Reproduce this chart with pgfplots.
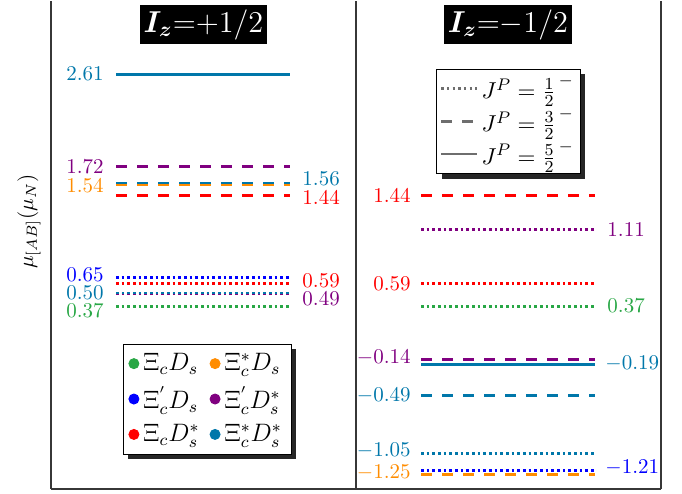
\documentclass[border=0pt]{standalone}
\usepackage{amsmath}
\usepackage{bm}
\usepackage{pgfplots}
\pgfplotsset{compat=1.18}
\usetikzlibrary{shadows}
\makeatletter
\tikzset{nopre/.code={\let\tikz@preactions\pgfutil@empty}}
\makeatother
\definecolor{cgreen}{RGB}{40,167,69}
\definecolor{corange}{RGB}{255,140,0}
\definecolor{cblue}{RGB}{0,0,255}
\definecolor{cred}{RGB}{255,0,0}
\definecolor{cpurple}{RGB}{128,0,128}
\definecolor{cteal}{RGB}{0,119,170}
\definecolor{axgray}{RGB}{55,55,55}
\definecolor{lgray}{RGB}{110,110,110}
\pgfplotsset{
  panel/.style={scale only axis, width=145.24pt, height=232.38pt,
    xmin=0, xmax=305, ymin=-1.387, ymax=3.316,
    xtick=\empty, ytick=\empty,
    axis x line=bottom, axis y line=box,
    axis line style={-, axgray, line width=0.8pt}, clip=false},
  jhalf/.style={line width=1.3pt, dash pattern=on 1.2pt off 1.5pt},
  jthree/.style={line width=1.3pt, dash pattern=on 5pt off 5pt},
  jfive/.style={line width=1.4pt},
  shad/.style={drop shadow={shadow xshift=2.3pt, shadow yshift=-2.3pt, fill=black!85, opacity=1}},
  pmark/.style={nopre, only marks, mark=*, mark size=2.4pt, color=#1},
}
\begin{document}
\begin{tikzpicture}
\begin{axis}[panel, name=L,
  ylabel={$\mu_{[AB]}(\mu_N)$},
  ylabel style={at={(axis description cs:-0.0723,0.547)}, anchor=center},
  legend columns=2,
  legend style={at={(0.513,0.184)}, anchor=center, draw=black, fill=white, shad,
    font=\large, row sep=2pt, inner sep=2.5pt,
    /tikz/every even column/.append style={column sep=3pt}},
  legend cell align=left]
\addlegendimage{pmark=cgreen}
\addlegendentry{$\Xi_c D_s$}
\addlegendimage{pmark=corange}
\addlegendentry{$\Xi_c^{*} D_s$}
\addlegendimage{pmark=cblue}
\addlegendentry{$\Xi_c^{'} D_s$}
\addlegendimage{pmark=cpurple}
\addlegendentry{$\Xi_c^{'} D_s^{*}$}
\addlegendimage{pmark=cred}
\addlegendentry{$\Xi_c D_s^{*}$}
\addlegendimage{pmark=cteal}
\addlegendentry{$\Xi_c^{*} D_s^{*}$}
% levels I_z = +1/2
\addplot[forget plot, cteal, jfive] coordinates {(65,2.61) (239,2.61)};
\addplot[forget plot, cpurple, jthree] coordinates {(65,1.72) (239,1.72)};
\addplot[forget plot, corange, jthree] coordinates {(65,1.54) (239,1.54)};
\addplot[forget plot, cteal, jthree] coordinates {(65,1.56) (239,1.56)};
\addplot[forget plot, cred, jthree] coordinates {(65,1.44) (239,1.44)};
\addplot[forget plot, cblue, jhalf] coordinates {(65,0.65) (239,0.65)};
\addplot[forget plot, cred, jhalf] coordinates {(65,0.59) (239,0.59)};
\addplot[forget plot, cpurple, jhalf] coordinates {(65,0.49) (239,0.49)};
\addplot[forget plot, cteal, jhalf] coordinates {(65,0.50) (239,0.50)};
\addplot[forget plot, cgreen, jhalf] coordinates {(65,0.37) (239,0.37)};
\node[anchor=east, inner sep=0pt, text=cteal] at (axis cs:53,2.61) {$2.61$};
\node[anchor=east, inner sep=0pt, text=cpurple] at (axis cs:53,1.72) {$1.72$};
\node[anchor=east, inner sep=0pt, text=corange] at (axis cs:53,1.533) {$1.54$};
\node[anchor=west, inner sep=0pt, text=cteal] at (axis cs:251,1.60) {$1.56$};
\node[anchor=west, inner sep=0pt, text=cred] at (axis cs:251,1.418) {$1.44$};
\node[anchor=east, inner sep=0pt, text=cblue] at (axis cs:53,0.676) {$0.65$};
\node[anchor=west, inner sep=0pt, text=cred] at (axis cs:251,0.618) {$0.59$};
\node[anchor=east, inner sep=0pt, text=cteal] at (axis cs:53,0.502) {$0.50$};
\node[anchor=west, inner sep=0pt, text=cpurple] at (axis cs:251,0.444) {$0.49$};
\node[anchor=east, inner sep=0pt, text=cgreen] at (axis cs:53,0.329) {$0.37$};
\node[fill=black, text=white, inner sep=2pt, font=\Large] at (rel axis cs:0.5,0.951) {$\boldsymbol{I_z}{=}{+}1/2$};
\end{axis}
\begin{axis}[panel, name=R, at={(L.south east)}, anchor=south west,
  legend style={at={(0.5,0.753)}, anchor=center, draw=black, fill=white, shad,
    font=\fontsize{11pt}{13pt}\selectfont, row sep=0pt, inner sep=1.5pt,
    nodes={inner sep=1.5pt}},
  legend cell align=left]
\addlegendimage{nopre, lgray, jhalf, line width=1.2pt}
\addlegendentry{$J^P=\frac{1}{2}^{\,-}$}
\addlegendimage{nopre, lgray, jthree, line width=1.2pt}
\addlegendentry{$J^P=\frac{3}{2}^{\,-}$}
\addlegendimage{nopre, lgray, jfive, line width=1.2pt}
\addlegendentry{$J^P=\frac{5}{2}^{\,-}$}
% levels I_z = -1/2
\addplot[forget plot, cred, jthree] coordinates {(65,1.44) (239,1.44)};
\addplot[forget plot, cpurple, jhalf] coordinates {(65,1.11) (239,1.11)};
\addplot[forget plot, cred, jhalf] coordinates {(65,0.59) (239,0.59)};
\addplot[forget plot, cgreen, jhalf] coordinates {(65,0.37) (239,0.37)};
\addplot[forget plot, cteal, jfive] coordinates {(65,-0.19) (239,-0.19)};
\addplot[forget plot, cpurple, jthree] coordinates {(65,-0.14) (239,-0.14)};
\addplot[forget plot, cteal, jthree] coordinates {(65,-0.49) (239,-0.49)};
\addplot[forget plot, cteal, jhalf] coordinates {(65,-1.05) (239,-1.05)};
\addplot[forget plot, corange, jthree] coordinates {(65,-1.25) (239,-1.25)};
\addplot[forget plot, cblue, jhalf] coordinates {(65,-1.21) (239,-1.21)};
\node[anchor=east, inner sep=0pt, text=cred] at (axis cs:55,1.44) {$1.44$};
\node[anchor=west, inner sep=0pt, text=cpurple] at (axis cs:251,1.11) {$1.11$};
\node[anchor=east, inner sep=0pt, text=cred] at (axis cs:55,0.59) {$0.59$};
\node[anchor=west, inner sep=0pt, text=cgreen] at (axis cs:251,0.38) {$0.37$};
\node[anchor=east, inner sep=0pt, text=cpurple] at (axis cs:55,-0.12) {$-0.14$};
\node[anchor=west, inner sep=0pt, text=cteal] at (axis cs:249,-0.18) {$-0.19$};
\node[anchor=east, inner sep=0pt, text=cteal] at (axis cs:55,-0.49) {$-0.49$};
\node[anchor=east, inner sep=0pt, text=cteal] at (axis cs:55,-1.02) {$-1.05$};
\node[anchor=west, inner sep=0pt, text=cblue] at (axis cs:249,-1.18) {$-1.21$};
\node[anchor=east, inner sep=0pt, text=corange] at (axis cs:55,-1.23) {$-1.25$};
\node[fill=black, text=white, inner sep=2pt, font=\Large] at (rel axis cs:0.498,0.951) {$\boldsymbol{I_z}{=}{-}1/2$};
\end{axis}
\path ([xshift=-24.29pt, yshift=-2.38pt]L.south west) rectangle ([xshift=10pt]R.north east);
\end{tikzpicture}
\end{document}
